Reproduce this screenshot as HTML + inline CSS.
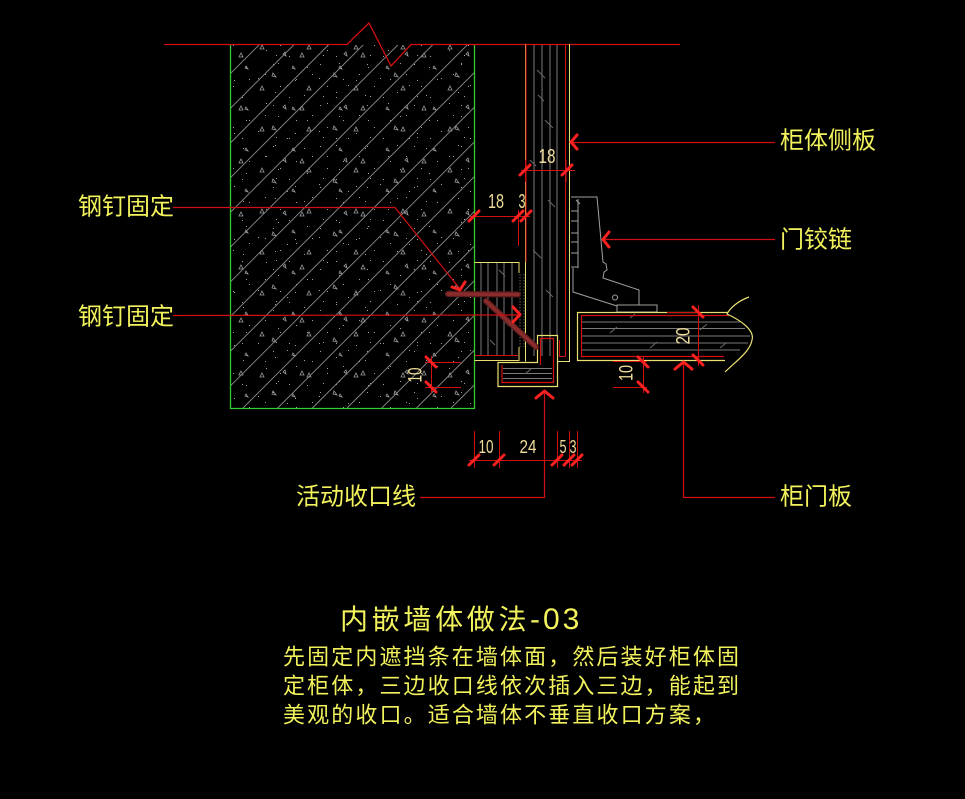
<!DOCTYPE html>
<html><head><meta charset="utf-8"><style>
html,body{margin:0;padding:0;background:#000;}
svg{display:block;}
.lb{font-family:"Liberation Sans","Noto Sans CJK SC",sans-serif;font-size:24px;fill:#f2f25c;dominant-baseline:central;}
.dm{font-family:"Liberation Sans",sans-serif;fill:#f0dc9a;dominant-baseline:central;text-anchor:middle;}
</style></head><body>
<svg width="965" height="799" viewBox="0 0 965 799" xmlns="http://www.w3.org/2000/svg">
<rect width="965" height="799" fill="#000"/>
<defs>
<clipPath id="wc"><rect x="231" y="45" width="243" height="363"/></clipPath>
<pattern id="sp" x="231" y="45" width="61" height="53" patternUnits="userSpaceOnUse">
<path d="M8 12 l4 0 l-2 -4z M41 31 l4 1 l-3 -4z M52 9 l3 2 l-1 -4z" fill="none" stroke="#9a9a9a" stroke-width="0.8"/>
<g fill="#a0a0a0">
<rect x="15" y="22" width="1" height="1"/><rect x="3" y="35" width="1" height="1"/><rect x="47" y="18" width="1" height="1"/>
<rect x="35" y="5" width="1" height="1"/><rect x="56" y="40" width="1" height="1"/><rect x="12" y="50" width="1" height="1"/>
<rect x="27" y="33" width="1" height="1"/><rect x="44" y="47" width="1" height="1"/>
</g>
</pattern>
<pattern id="sp2" x="240" y="60" width="47" height="41" patternUnits="userSpaceOnUse">
<path d="M20 30 l4 0 l-2 -4z M5 8 l3 1 l-2 -3z" fill="none" stroke="#9a9a9a" stroke-width="0.8"/>
<g fill="#a0a0a0">
<rect x="9" y="19" width="1" height="1"/><rect x="33" y="4" width="1" height="1"/><rect x="40" y="26" width="1" height="1"/>
<rect x="25" y="14" width="1" height="1"/><rect x="2" y="37" width="1" height="1"/><rect x="36" y="36" width="1" height="1"/>
</g>
</pattern>
</defs>

<!-- wall hatch -->
<g clip-path="url(#wc)">
<rect x="231" y="45" width="243" height="363" fill="url(#sp)"/>
<rect x="231" y="45" width="243" height="363" fill="url(#sp2)"/>
<path stroke="#8c8c8c" stroke-width="0.9" fill="none" d="
M225.3,44L-138.7,408 M260,44L-104,408 M294.7,44L-69.3,408 M329.4,44L-34.6,408 M364.1,44L0.1,408
M398.8,44L34.8,408 M433.5,44L69.5,408 M468.2,44L104.2,408 M502.9,44L138.9,408 M537.6,44L173.6,408
M572.3,44L208.3,408 M607,44L243,408 M641.7,44L277.7,408 M676.4,44L312.4,408 M711.1,44L347.1,408
M745.8,44L381.8,408 M780.5,44L416.5,408 M815.2,44L451.2,408"/>
</g>
<!-- wall borders -->
<path d="M230.5,44V408.5H474.5V44" stroke="#33cc33" stroke-width="1.3" fill="none"/>

<!-- top break line -->
<polyline points="164,44.5 347,44.5 369,23 391,66 411,44.5 680,44.5" stroke="#d01010" stroke-width="1.3" fill="none"/>

<!-- cabinet side panel -->
<g fill="none" stroke-width="1">
<path d="M534,45V356 M542,45V356 M550,45V356 M557,45V336" stroke="#7a7a7a"/>
<path d="M537,70l8,8 M545,120l8,8 M530,160l6,6 M548,200l7,7 M533,250l8,8 M546,290l7,7 M538,95l6,6" stroke="#6a6a6a"/>
<path d="M525.5,44V361.5" stroke="#e8e070"/>
<path d="M569.5,44V361.5H557" stroke="#e8e070"/>
<path d="M565.5,44V356.5H559.5V340" stroke="#d01010"/>
<path d="M526,44V262" stroke="#d01010"/>
</g>

<!-- blocking strip -->
<g fill="none" stroke-width="1">
<path d="M481,263V355 M488,263V355 M497,263V355 M504,263V355 M512,263V355" stroke="#7a7a7a"/>
<path d="M499,270l6,6 M483,300l5,5 M503,320l6,6 M490,340l5,5" stroke="#6a6a6a"/>
<path d="M475,355.5H518" stroke="#d01010"/>
<path d="M474.5,262.5H519V273 M519,347V360.5H474.5" stroke="#e8e070"/>
</g>
<!-- glue dots -->
<g fill="none" stroke="#8a8a8a" stroke-width="0.7">
<path d="M520,274V347 M524,274V347" stroke-dasharray="1.5 1.5"/>
</g>

<!-- closure strip -->
<g fill="none" stroke-width="1.2">
<path d="M498,362.5H537.5V335.5H557.5V386.5H498Z" stroke="#e8e070"/>
<path d="M502,365V382.5H553.5V338.5H540.5V365" stroke="#d01010"/>
<path d="M503,368.5H552 M503,373.5H552 M503,378.5H552" stroke="#7a7a7a" stroke-width="1"/>
<path d="M525,374l6,-5" stroke="#6a6a6a" stroke-width="1"/>
</g>

<!-- nails -->
<g stroke-linecap="round">
<line x1="448" y1="294" x2="518" y2="294.5" stroke="#5e1c1c" stroke-width="6"/>
<line x1="448" y1="294" x2="518" y2="294.5" stroke="#8a2c2c" stroke-width="3.5"/>
<line x1="486" y1="301" x2="536" y2="347" stroke="#5e1c1c" stroke-width="6"/>
<line x1="486" y1="301" x2="536" y2="347" stroke="#8a2c2c" stroke-width="3.5"/>
</g>

<!-- hinge -->
<g fill="none" stroke="#a0a0a0" stroke-width="1">
<polyline points="571,197 597,197 603,262 606,264 607,270 604,272 603,278 639,290 639,305"/>
<polyline points="573,268 573,292 617,306"/>
<path d="M578,199V268 M571,211H578 M571,221H578 M571,233H578 M571,242H578 M571,253H578 M571,267H578"/>
<path d="M576,200l4,4"/>
<rect x="617" y="305" width="40" height="7"/>
<circle cx="615" cy="297.5" r="2.5"/>
</g>

<!-- door panel -->
<g fill="none" stroke-width="1.2">
<path d="M582,322H740 M582,328.5H745 M582,336H750 M582,343H748 M582,350H740" stroke="#7a7a7a" stroke-width="1"/>
<path d="M610,333l7,-6 M650,348l7,-6 M700,330l7,-6 M720,348l6,-5 M630,318l5,-4" stroke="#6a6a6a" stroke-width="1"/>
<path d="M729,315.5H581.5V356.5H724" stroke="#d01010"/>
<path d="M728,312.5H577.5V360.5H725" stroke="#e8e070"/>
<path d="M749,297C738,301 730,308 727,314C740,320 755,330 752,340C750,352 735,362 725,372" stroke="#e8e070"/>
</g>

<!-- dimensions -->
<g stroke="#d01010" stroke-width="1" fill="none">
<path d="M521,170.5H575 M525.5,160V182 M566,160V182"/>
<path d="M470,216.5H530 M518.5,210V246"/>
<path d="M425,362.5H461 M425,387.5H461 M431.5,356V393"/>
<path d="M613,361.5H647 M613,387.5H647 M643.5,356V393"/>
<path d="M698.5,305V366 M667,312.5H700"/>
<path d="M469,460.5H582 M474.5,431V468 M499.5,431V468 M557.5,431V468 M569.5,431V468 M577.5,431V468"/>
</g>
<!-- ticks -->
<g stroke="#ff2020" stroke-width="3" stroke-linecap="round" fill="none">
<path d="M520,175l10,-10 M562,175l10,-10"/>
<path d="M469,221l10,-10 M513,221l10,-10 M521,221l10,-10"/>
<path d="M426,357l10,10 M426,382l10,10"/>
<path d="M638,357l10,10 M638,382l10,10"/>
<path d="M693,307l10,10 M693,355l10,10"/>
<path d="M469,465l10,-10 M494,465l10,-10 M552,465l10,-10 M564,465l10,-10 M572,465l10,-10"/>
</g>

<!-- leaders -->
<g stroke="#d01010" stroke-width="1.2" fill="none">
<polyline points="173,207.5 395,207.5 460,289"/>
<line x1="173" y1="315.5" x2="519" y2="315"/>
<line x1="571" y1="142.5" x2="775" y2="142.5"/>
<line x1="603" y1="239.5" x2="775" y2="239.5"/>
<polyline points="683.5,362 683.5,497.5 775,497.5"/>
<polyline points="544.5,390 544.5,497.5 420,497.5"/>
</g>
<!-- arrow chevrons -->
<g stroke="#ff2020" stroke-width="3" stroke-linecap="round" stroke-linejoin="round" fill="none">
<polyline points="452,287 460,290 465,282"/>
<polyline points="513,307 520,314.5 513,322"/>
<polyline points="577,135 571,142 577,149"/>
<polyline points="609,232 603,239.5 609,247"/>
<polyline points="675,369 683.5,362 692,369"/>
<polyline points="536,398 544.5,391 553,398"/>
</g>

<!-- dim texts -->
<text class="dm" x="547" y="157" font-size="20" textLength="17" lengthAdjust="spacingAndGlyphs">18</text>
<text class="dm" x="496" y="202" font-size="20" textLength="16" lengthAdjust="spacingAndGlyphs">18</text>
<text class="dm" x="522" y="202" font-size="20" textLength="7" lengthAdjust="spacingAndGlyphs">3</text>
<text class="dm" x="486" y="447" font-size="18" textLength="15" lengthAdjust="spacingAndGlyphs">10</text>
<text class="dm" x="528" y="447" font-size="18" textLength="17" lengthAdjust="spacingAndGlyphs">24</text>
<text class="dm" x="563" y="447" font-size="18" textLength="7" lengthAdjust="spacingAndGlyphs">5</text>
<text class="dm" x="573" y="447" font-size="18" textLength="7" lengthAdjust="spacingAndGlyphs">3</text>
<text class="dm" x="0" y="0" font-size="19" textLength="15" lengthAdjust="spacingAndGlyphs" transform="translate(416,375) rotate(-90)">10</text>
<text class="dm" x="0" y="0" font-size="19" textLength="16" lengthAdjust="spacingAndGlyphs" transform="translate(627,373) rotate(-90)">10</text>
<text class="dm" x="0" y="0" font-size="19" textLength="17" lengthAdjust="spacingAndGlyphs" transform="translate(684,336) rotate(-90)">20</text>

<!-- labels -->
<text class="lb" x="78" y="207">钢钉固定</text>
<text class="lb" x="78" y="317">钢钉固定</text>
<text class="lb" x="780" y="141">柜体侧板</text>
<text class="lb" x="780" y="240">门铰链</text>
<text class="lb" x="780" y="497">柜门板</text>
<text class="lb" x="296" y="497">活动收口线</text>

<!-- title & paragraph -->
<text class="lb" x="340" y="619" style="font-size:28px"><tspan letter-spacing="3.7">内嵌墙体做法</tspan><tspan x="530" font-size="30" letter-spacing="3">-03</tspan></text>
<text class="lb" x="283" y="657" style="font-size:22px" textLength="456" lengthAdjust="spacing">先固定内遮挡条在墙体面，然后装好柜体固</text>
<text class="lb" x="283" y="686" style="font-size:22px" textLength="456" lengthAdjust="spacing">定柜体，三边收口线依次插入三边，能起到</text>
<text class="lb" x="283" y="715" style="font-size:22px" textLength="432" lengthAdjust="spacing">美观的收口。适合墙体不垂直收口方案，</text>
</svg>
</body></html>
